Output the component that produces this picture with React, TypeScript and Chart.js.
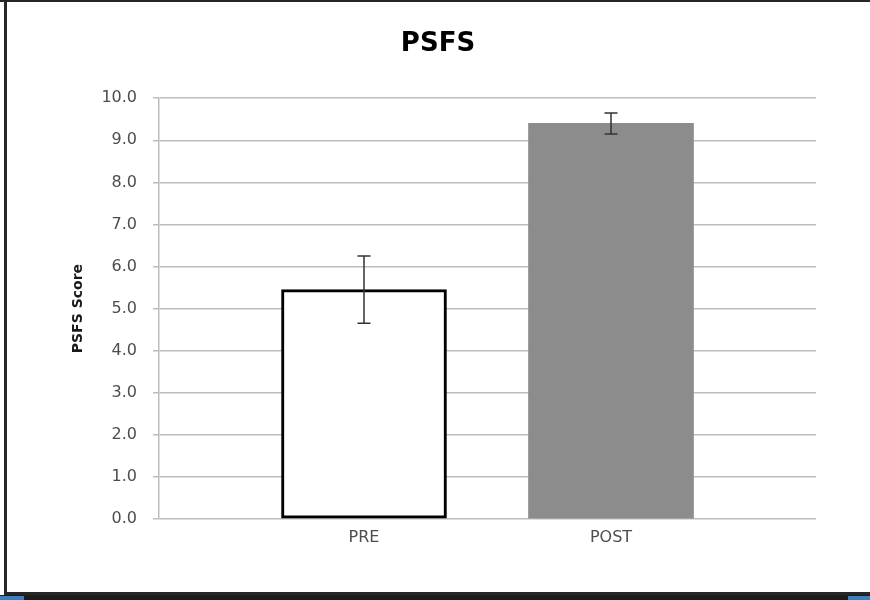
import React, { useEffect, useRef } from "react";
import { Chart, registerables } from "chart.js";

Chart.register(...registerables);

const categories = ["PRE", "POST"];
const means = [5.45, 9.4];
const errors = [0.8, 0.25];
const yTicks = [0, 1, 2, 3, 4, 5, 6, 7, 8, 9, 10];
const chartTitle = "PSFS";
const yTitle = "PSFS Score";

const FONT = "'DejaVu Sans', sans-serif";

const framePlugin = {
  id: "frame",
  beforeDraw(chart: any) {
    const ctx = chart.ctx;
    const w = chart.width;
    const h = chart.height;
    ctx.save();
    ctx.fillStyle = "#ffffff";
    ctx.fillRect(0, 0, w, h);
    ctx.fillStyle = "#262626";
    ctx.fillRect(0, 0, w, 2);
    ctx.fillRect(4, 0, 3, 595);
    ctx.fillRect(4, 592, w - 4, 3);
    ctx.fillStyle = "#1c1c1c";
    ctx.fillRect(0, 595, w, 5);
    ctx.fillStyle = "#3c7fbf";
    ctx.fillRect(0, 596, 24, 4);
    ctx.fillRect(848, 596, w - 848, 4);
    ctx.restore();
  },
};

const errorBarPlugin = {
  id: "errorBars",
  afterDatasetsDraw(chart: any) {
    const ctx = chart.ctx;
    const yScale = chart.scales.y;
    const meta = chart.getDatasetMeta(0);
    ctx.save();
    ctx.strokeStyle = "#333333";
    ctx.lineWidth = 1.5;
    meta.data.forEach((el: any, i: number) => {
      const x = el.x;
      const top = yScale.getPixelForValue(means[i] + errors[i]);
      const bot = yScale.getPixelForValue(means[i] - errors[i]);
      ctx.beginPath();
      ctx.moveTo(x, top);
      ctx.lineTo(x, bot);
      ctx.moveTo(x - 6.5, top);
      ctx.lineTo(x + 6.5, top);
      ctx.moveTo(x - 6.5, bot);
      ctx.lineTo(x + 6.5, bot);
      ctx.stroke();
    });
    ctx.restore();
  },
};

export default function App() {
  const ref = useRef<HTMLCanvasElement>(null);
  useEffect(() => {
    document.body.style.margin = "0";
    const chart = new Chart(ref.current as HTMLCanvasElement, {
      type: "bar",
      data: {
        datasets: [
          {
            data: categories.map((_, i) => ({ x: i, y: means[i] })) as any,
            backgroundColor: ["#ffffff", "#8c8c8c"],
            borderColor: ["#000000", "#8c8c8c"],
            borderWidth: [3, 0] as any,
            borderSkipped: false,
            barThickness: 165,
          },
        ],
      },
      options: {
        animation: false,
        responsive: true,
        maintainAspectRatio: false,
        layout: { padding: { left: 60, right: 54, top: 0, bottom: 0 } },
        plugins: {
          legend: { display: false },
          tooltip: { enabled: false },
          title: {
            display: true,
            text: chartTitle,
            color: "#000000",
            font: { family: FONT, size: 26, weight: "bold", lineHeight: 1.2 },
            padding: { top: 29, bottom: 38 },
          },
        },
        scales: {
          x: {
            type: "linear",
            min: -0.83,
            max: 1.83,
            offset: false,
            grid: { display: false, drawTicks: false },
            border: { display: false },
            afterBuildTicks: (scale: any) => {
              scale.ticks = categories.map((_, i) => ({ value: i }));
            },
            afterFit: (scale: any) => {
              scale.height = 81;
            },
            ticks: {
              padding: 9,
              color: "#4d4d4d",
              font: { family: FONT, size: 16 },
              callback: (v: any) => categories[v] ?? "",
              maxRotation: 0,
              autoSkip: false,
            },
          },
          y: {
            min: 0,
            max: 10,
            afterBuildTicks: (scale: any) => {
              scale.ticks = yTicks.map((v) => ({ value: v }));
            },
            afterFit: (scale: any) => {
              scale.width = 159 - 60;
            },
            grid: {
              color: "#bdbdbd",
              lineWidth: 1.5,
              tickLength: 6,
              drawTicks: true,
            },
            border: { display: true, color: "#bdbdbd", width: 1.5 },
            ticks: {
              padding: 16,
              color: "#4d4d4d",
              font: { family: FONT, size: 16 },
              callback: (v: any) => Number(v).toFixed(1),
            },
            title: {
              display: true,
              text: yTitle,
              color: "#1a1a1a",
              font: { family: FONT, size: 14, weight: "bold" },
              padding: { top: 10, bottom: 0 },
            },
          },
        },
      },
      plugins: [framePlugin, errorBarPlugin],
    });
    return () => chart.destroy();
  }, []);
  return (
    <div style={{ position: "absolute", left: 0, top: 0, width: 870, height: 600 }}>
      <canvas ref={ref} />
    </div>
  );
}
